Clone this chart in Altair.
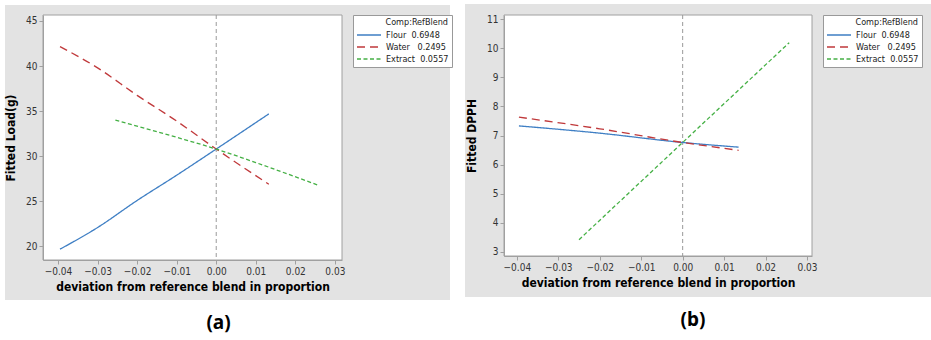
import altair as alt
import pandas as pd

FONT = "Liberation Sans Narrow, DejaVu Sans Condensed, Liberation Sans, sans-serif"

series_names = ["Flour\u00a0\u00a00.6948", "Water\u00a0\u00a0 0.2495", "Extract\u00a0\u00a00.0557"]
series_colors = ["#3f7fc4", "#c0393b", "#45b045"]
series_dashes = [[1, 0], [8, 5], [4, 2.5]]

# Panel (a): Fitted Load(g)
a_flour_x = [-0.0395, -0.03, -0.02, -0.01, 0.0, 0.0133]
a_flour_y = [19.7, 22.1, 25.1, 27.9, 30.8, 34.7]
a_water_x = [-0.0395, -0.03, -0.02, -0.01, 0.0, 0.0133]
a_water_y = [42.15, 39.8, 36.75, 33.9, 30.8, 26.9]
a_extract_x = [-0.0255, -0.01, 0.0, 0.01, 0.0257]
a_extract_y = [34.0, 32.1, 30.8, 29.3, 26.8]

# Panel (b): Fitted DPPH
b_flour_x = [-0.0395, -0.02, 0.0, 0.0135]
b_flour_y = [7.33, 7.08, 6.76, 6.6]
b_water_x = [-0.0395, -0.02, 0.0, 0.0135]
b_water_y = [7.63, 7.23, 6.76, 6.49]
b_extract_x = [-0.025, 0.0, 0.0257]
b_extract_y = [3.42, 6.76, 10.19]

x_ticks = [-0.04, -0.03, -0.02, -0.01, 0.0, 0.01, 0.02, 0.03]
a_y_ticks = [20, 25, 30, 35, 40, 45]
b_y_ticks = [3, 4, 5, 6, 7, 8, 9, 10, 11]


def frame(xs_list, ys_list):
    rows = []
    for name, xs, ys in zip(series_names, xs_list, ys_list):
        for i, (xv, yv) in enumerate(zip(xs, ys)):
            rows.append({"x": xv, "y": yv, "series": name, "i": i})
    return pd.DataFrame(rows)


legend = alt.Legend(
    title="Comp:RefBlend", titleAnchor="end", orient="right", offset=11,
    symbolType="stroke", symbolSize=576, symbolStrokeWidth=1.3,
    clipHeight=10, rowPadding=2, labelFontSize=9, titleFontSize=9,
    titleFontWeight="normal", titleColor="#222", labelColor="#222",
    labelOffset=4, titlePadding=3, padding=3, strokeColor="#999",
    fillColor="white", labelFont=FONT, titleFont=FONT, zindex=1,
)


def panel(df, xdom, ydom, yticks, ytitle, w, h, bg, label, tdx):
    base_bg = alt.Chart(alt.Data(values=[{}])).mark_rect(color="#e3e3e3").encode(
        x=alt.value(bg[0]), x2=alt.value(bg[1]), y=alt.value(bg[2]), y2=alt.value(bg[3])
    )
    plot_bg = alt.Chart(alt.Data(values=[{}])).mark_rect(
        fill="white", stroke="#a0a0a0", strokeWidth=1
    ).encode(x=alt.value(0), x2=alt.value(w), y=alt.value(0), y2=alt.value(h))
    lines = alt.Chart(df).mark_line(strokeWidth=1.3, interpolate="monotone").encode(
        x=alt.X("x:Q", scale=alt.Scale(domain=xdom, nice=False, zero=False),
                axis=alt.Axis(values=x_ticks, format=".2f", zindex=1,
                              title="deviation from reference blend in proportion",
                              titlePadding=5)),
        y=alt.Y("y:Q", scale=alt.Scale(domain=ydom, nice=False, zero=False),
                axis=alt.Axis(values=yticks, format="d", title=ytitle, titlePadding=8,
                              zindex=1)),
        color=alt.Color("series:N", scale=alt.Scale(domain=series_names, range=series_colors),
                        legend=legend),
        strokeDash=alt.StrokeDash("series:N",
                                  scale=alt.Scale(domain=series_names, range=series_dashes),
                                  legend=legend),
        order="i:Q",
    )
    ref = alt.Chart(alt.Data(values=[{}])).mark_rule(
        color="#9a9a9a", strokeDash=[4, 3], strokeWidth=1
    ).encode(x=alt.datum(0))
    return alt.layer(base_bg, plot_bg, ref, lines).properties(
        width=w, height=h,
        title=alt.TitleParams(label, orient="bottom", anchor="middle", fontSize=19,
                              fontWeight="bold", font="Noto Sans", color="black",
                              offset=14, dx=tdx),
    )


df_a = frame([a_flour_x, a_water_x, a_extract_x], [a_flour_y, a_water_y, a_extract_y])
df_b = frame([b_flour_x, b_water_x, b_extract_x], [b_flour_y, b_water_y, b_extract_y])

pa = panel(df_a, [-0.0438, 0.0318], [18.5, 45.66], a_y_ticks, "Fitted Load(g)",
           299, 245, (-38, 407, -10, 285), "(a)", 26)
pb = panel(df_b, [-0.0431, 0.0312], [2.86, 11.14], b_y_ticks, "Fitted DPPH",
           308, 241, (-39, 427, -11, 282), "(b)", 35)

chart = alt.hconcat(pa, pb, spacing=12).resolve_scale(
    x="independent", y="independent", color="independent", strokeDash="independent"
).properties(
    padding={"left": 4, "top": 4, "right": 0, "bottom": 10}, background="white"
).configure_axis(
    labelFont=FONT, titleFont=FONT, labelFontSize=10, labelColor="#333",
    titleFontSize=12, titleFontWeight="bold", titleColor="#000",
    domainColor="#a0a0a0", tickColor="#a0a0a0", tickSize=4, grid=False,
    labelPadding=2,
).configure_view(stroke=None)

chart.save("out.html", embed_options={"renderer": "svg", "actions": False})
